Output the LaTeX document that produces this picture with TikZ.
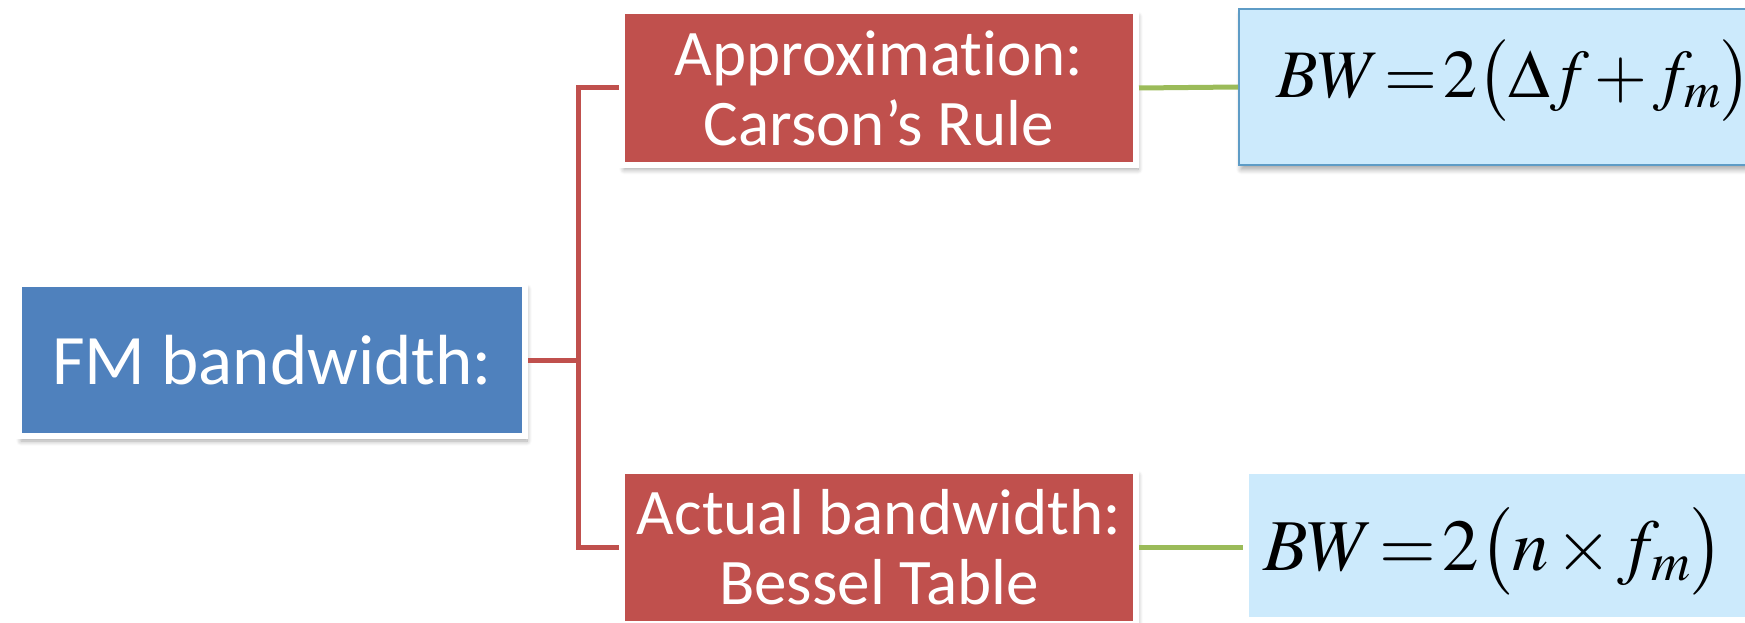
\documentclass[tikz,border=0pt]{standalone}
\usepackage{mathptmx}
\usepackage{fontspec}
\newfontfamily\calib[Ligatures=NoCommon]{Carlito}
\usepackage{xcolor}
\usepackage{tikz}
\usetikzlibrary{shadows.blur}

\definecolor{fmblue}{HTML}{4F81BD}
\definecolor{boxred}{HTML}{C0504D}
\definecolor{linegreen}{HTML}{9BBB59}
\definecolor{bwfill}{HTML}{CCEAFC}
\definecolor{bwedge}{HTML}{5E9CC6}

\begin{document}
\begin{tikzpicture}[x=1pt,y=-1pt,
  shade/.style={blur shadow={shadow xshift=2pt,shadow yshift=-5pt,shadow blur radius=5pt,shadow blur steps=8,shadow opacity=35}},
  fmbox/.style={shade,fill=fmblue,draw=white,line width=6pt,minimum width=506pt,minimum height=152pt,
    text=white,font=\calib\fontsize{71}{76}\selectfont},
  redbox/.style={shade,fill=boxred,draw=white,line width=6pt,minimum width=514pt,minimum height=153pt,
    align=center,text=white,font=\calib\fontsize{65}{70}\selectfont},
  bwbox/.style={shade,fill=bwfill,anchor=west,align=left,text width=520pt,inner ysep=0pt},
  redline/.style={draw=boxred,line width=5pt},
  greenline/.style={draw=linegreen,line width=5pt}]
\useasboundingbox (0,0) rectangle (1745,623);
\clip (0,0) rectangle (1745,623);
\thickmuskip=1.5mu \medmuskip=1.5mu

% the tree
\node[fmbox] (fm) at (272,360) {FM bandwidth:\hspace{22pt}};
\node[redbox] (carson) at (879,88) {Approximation:\\Carson’s Rule};
\node[redbox] (bessel) at (879,547) {Actual bandwidth:\\Bessel Table};

% formulas
\node[bwbox,draw=bwedge,line width=2pt,inner xsep=37pt,text height=88pt,text depth=67pt,
  font=\fontsize{68}{74}\selectfont] (carsonbw) at (1238,87)
  {\mbox{$BW=2\bigl(\Delta f+f_m\bigr)$}};
\node[bwbox,draw=white,line width=6pt,inner xsep=17pt,text height=99pt,text depth=50pt,anchor=north west,
  font=\fontsize{73}{78}\selectfont] (besselbw) at (1243,468)
  {\mbox{$BW=2\bigl(n\times f_m\bigr)$}};

\coordinate (fork) at (578,360);
\draw[redline] (fm.east) -- (fork) |- (carson.west);
\draw[redline] (fork) |- (bessel.west);
\draw[greenline] (carson.east) -- (carsonbw.west);
\draw[greenline] (bessel.east) -- (besselbw.west |- bessel.east);
\end{tikzpicture}
\end{document}
